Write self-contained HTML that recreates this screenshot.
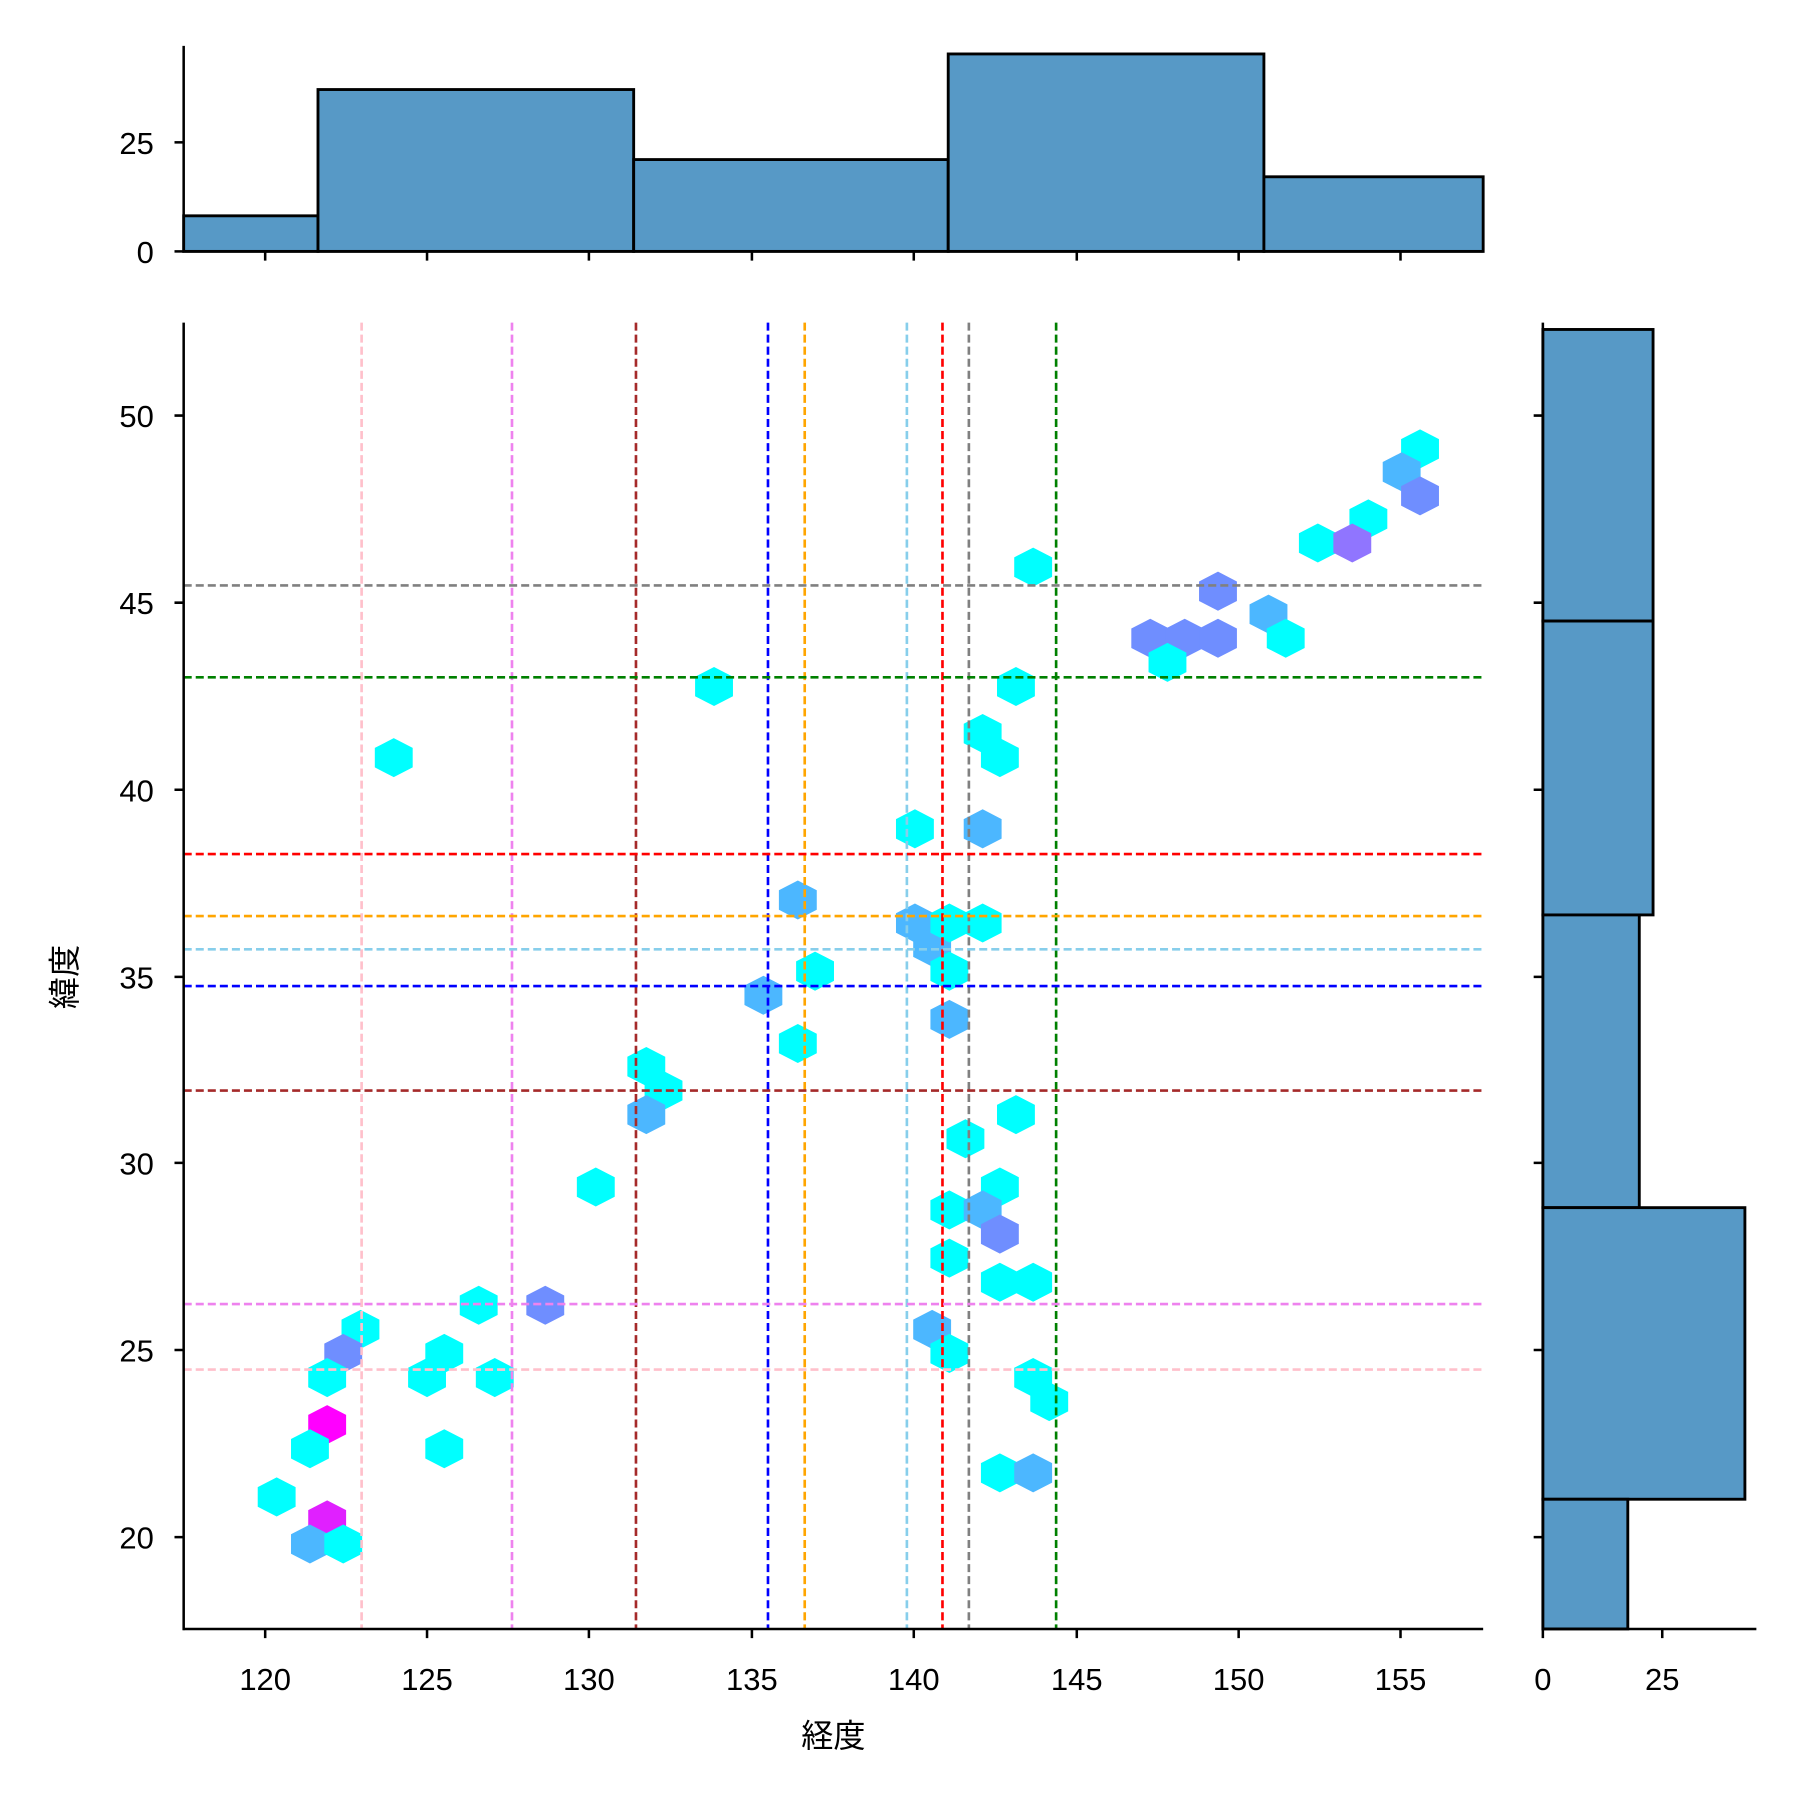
<!DOCTYPE html>
<html><head><meta charset="utf-8"><style>html,body{margin:0;padding:0;background:#fff}svg{display:block}</style></head>
<body>
<svg width="1800" height="1800" viewBox="0 0 1568 1568" xmlns="http://www.w3.org/2000/svg" font-family="Liberation Sans, Noto Sans CJK JP, sans-serif">
<defs>
<polygon id="h" points="0,-17 16.5,-8.5 16.5,8.5 0,17 -16.5,8.5 -16.5,-8.5"/>
</defs>
<rect width="1568" height="1568" fill="#fff"/>
<g fill="#5799c6" stroke="#000" stroke-width="2.5">
<rect x="160" y="188" width="117" height="31"/>
<rect x="277" y="78" width="275" height="141"/>
<rect x="552" y="139" width="274" height="80"/>
<rect x="826" y="47" width="275" height="172"/>
<rect x="1101" y="154" width="191" height="65"/>
</g>
<g stroke="#000" stroke-width="2.2" fill="none">
<line x1="160" y1="40" x2="160" y2="219"/><line x1="159" y1="219" x2="1292" y2="219"/>
<line x1="152" y1="219" x2="160" y2="219"/><line x1="152" y1="124" x2="160" y2="124"/>
<path d="M231 219v8M372 219v8M513 219v8M655 219v8M796 219v8M938 219v8M1079 219v8M1220 219v8"/>
</g>
<g font-size="27" text-anchor="end"><text x="134" y="229">0</text><text x="134" y="134">25</text></g>
<g fill="#5799c6" stroke="#000" stroke-width="2.5">
<rect x="1344" y="287" width="96" height="254"/>
<rect x="1344" y="541" width="96" height="256"/>
<rect x="1344" y="797" width="84" height="255"/>
<rect x="1344" y="1052" width="176" height="254"/>
<rect x="1344" y="1306" width="74" height="113"/>
</g>
<g stroke="#000" stroke-width="2.2" fill="none">
<line x1="1344" y1="281" x2="1344" y2="1420"/><line x1="1343" y1="1419" x2="1530" y2="1419"/>
<path d="M1344 1419v8M1448 1419v8"/>
<path d="M1336 362h8M1336 525h8M1336 688h8M1336 851h8M1336 1013h8M1336 1176h8M1336 1339h8"/>
</g>
<g font-size="27" text-anchor="middle"><text x="1344" y="1472">0</text><text x="1448" y="1472">25</text></g>
<g>
<use href="#h" x="1237" y="391" fill="#00ffff"/>
<use href="#h" x="1221" y="411" fill="#4cb7ff"/>
<use href="#h" x="1237" y="432" fill="#6f8eff"/>
<use href="#h" x="1192" y="452" fill="#00ffff"/>
<use href="#h" x="1148" y="473" fill="#00ffff"/>
<use href="#h" x="1178" y="473" fill="#9075ff"/>
<use href="#h" x="900" y="494" fill="#00ffff"/>
<use href="#h" x="1061" y="515" fill="#6f8eff"/>
<use href="#h" x="1105" y="535" fill="#4cb7ff"/>
<use href="#h" x="1120" y="556" fill="#00ffff"/>
<use href="#h" x="1002" y="556" fill="#6f8eff"/>
<use href="#h" x="1032" y="556" fill="#6f8eff"/>
<use href="#h" x="1061" y="556" fill="#6f8eff"/>
<use href="#h" x="1017" y="577" fill="#00ffff"/>
<use href="#h" x="622" y="598" fill="#00ffff"/>
<use href="#h" x="885" y="598" fill="#00ffff"/>
<use href="#h" x="856" y="639" fill="#00ffff"/>
<use href="#h" x="871" y="660" fill="#00ffff"/>
<use href="#h" x="343" y="660" fill="#00ffff"/>
<use href="#h" x="797" y="722" fill="#00ffff"/>
<use href="#h" x="856" y="722" fill="#4cb7ff"/>
<use href="#h" x="695" y="784" fill="#4cb7ff"/>
<use href="#h" x="797" y="804" fill="#4cb7ff"/>
<use href="#h" x="812" y="825" fill="#4cb7ff"/>
<use href="#h" x="827" y="804" fill="#00ffff"/>
<use href="#h" x="856" y="804" fill="#00ffff"/>
<use href="#h" x="710" y="846" fill="#00ffff"/>
<use href="#h" x="827" y="846" fill="#00ffff"/>
<use href="#h" x="665" y="867" fill="#4cb7ff"/>
<use href="#h" x="827" y="888" fill="#4cb7ff"/>
<use href="#h" x="695" y="909" fill="#00ffff"/>
<use href="#h" x="563" y="929" fill="#00ffff"/>
<use href="#h" x="578" y="950" fill="#00ffff"/>
<use href="#h" x="563" y="971" fill="#4cb7ff"/>
<use href="#h" x="885" y="971" fill="#00ffff"/>
<use href="#h" x="841" y="992" fill="#00ffff"/>
<use href="#h" x="519" y="1034" fill="#00ffff"/>
<use href="#h" x="871" y="1034" fill="#00ffff"/>
<use href="#h" x="827" y="1054" fill="#00ffff"/>
<use href="#h" x="856" y="1054" fill="#4cb7ff"/>
<use href="#h" x="871" y="1075" fill="#6f8eff"/>
<use href="#h" x="827" y="1096" fill="#00ffff"/>
<use href="#h" x="871" y="1117" fill="#00ffff"/>
<use href="#h" x="900" y="1117" fill="#00ffff"/>
<use href="#h" x="417" y="1137" fill="#00ffff"/>
<use href="#h" x="475" y="1137" fill="#6f8eff"/>
<use href="#h" x="314" y="1158" fill="#00ffff"/>
<use href="#h" x="812" y="1158" fill="#4cb7ff"/>
<use href="#h" x="299" y="1179" fill="#6f8eff"/>
<use href="#h" x="387" y="1179" fill="#00ffff"/>
<use href="#h" x="827" y="1179" fill="#00ffff"/>
<use href="#h" x="285" y="1200" fill="#00ffff"/>
<use href="#h" x="372" y="1200" fill="#00ffff"/>
<use href="#h" x="431" y="1200" fill="#00ffff"/>
<use href="#h" x="900" y="1200" fill="#00ffff"/>
<use href="#h" x="914" y="1221" fill="#00ffff"/>
<use href="#h" x="285" y="1241" fill="#ff00ff"/>
<use href="#h" x="270" y="1262" fill="#00ffff"/>
<use href="#h" x="387" y="1262" fill="#00ffff"/>
<use href="#h" x="241" y="1304" fill="#00ffff"/>
<use href="#h" x="871" y="1283" fill="#00ffff"/>
<use href="#h" x="900" y="1283" fill="#4cb7ff"/>
<use href="#h" x="285" y="1324" fill="#e020ff"/>
<use href="#h" x="270" y="1345" fill="#4cb7ff"/>
<use href="#h" x="299" y="1345" fill="#00ffff"/>
</g>
<g stroke-width="2.3" stroke-dasharray="7,3.5" fill="none">
<line x1="315" y1="281" x2="315" y2="1419" stroke="pink"/>
<line x1="446" y1="281" x2="446" y2="1419" stroke="violet"/>
<line x1="554" y1="281" x2="554" y2="1419" stroke="brown"/>
<line x1="669" y1="281" x2="669" y2="1419" stroke="blue"/>
<line x1="701" y1="281" x2="701" y2="1419" stroke="orange"/>
<line x1="790" y1="281" x2="790" y2="1419" stroke="skyblue"/>
<line x1="821" y1="281" x2="821" y2="1419" stroke="red"/>
<line x1="844" y1="281" x2="844" y2="1419" stroke="gray"/>
<line x1="920" y1="281" x2="920" y2="1419" stroke="green"/>
<line x1="160" y1="510" x2="1292" y2="510" stroke="gray"/>
<line x1="160" y1="590" x2="1292" y2="590" stroke="green"/>
<line x1="160" y1="744" x2="1292" y2="744" stroke="red"/>
<line x1="160" y1="798" x2="1292" y2="798" stroke="orange"/>
<line x1="160" y1="827" x2="1292" y2="827" stroke="skyblue"/>
<line x1="160" y1="859" x2="1292" y2="859" stroke="blue"/>
<line x1="160" y1="950" x2="1292" y2="950" stroke="brown"/>
<line x1="160" y1="1136" x2="1292" y2="1136" stroke="violet"/>
<line x1="160" y1="1193" x2="1292" y2="1193" stroke="pink"/>
</g>
<g stroke="#000" stroke-width="2.2" fill="none">
<line x1="160" y1="281" x2="160" y2="1420"/><line x1="159" y1="1419" x2="1292" y2="1419"/>
<path d="M152 362h8M152 525h8M152 688h8M152 851h8M152 1013h8M152 1176h8M152 1339h8"/>
<path d="M231 1419v8M372 1419v8M513 1419v8M655 1419v8M796 1419v8M938 1419v8M1079 1419v8M1220 1419v8"/>
</g>
<g font-size="27" text-anchor="end">
<text x="134" y="372">50</text><text x="134" y="535">45</text><text x="134" y="698">40</text><text x="134" y="861">35</text><text x="134" y="1023">30</text><text x="134" y="1186">25</text><text x="134" y="1349">20</text>
</g>
<g font-size="27" text-anchor="middle">
<text x="231" y="1472">120</text><text x="372" y="1472">125</text><text x="513" y="1472">130</text><text x="655" y="1472">135</text><text x="796" y="1472">140</text><text x="938" y="1472">145</text><text x="1079" y="1472">150</text><text x="1220" y="1472">155</text>
</g>
<text x="726" y="1522" font-size="28" text-anchor="middle">経度</text>
<text transform="translate(66,851) rotate(-90)" font-size="28" text-anchor="middle">緯度</text>
</svg>
</body></html>
